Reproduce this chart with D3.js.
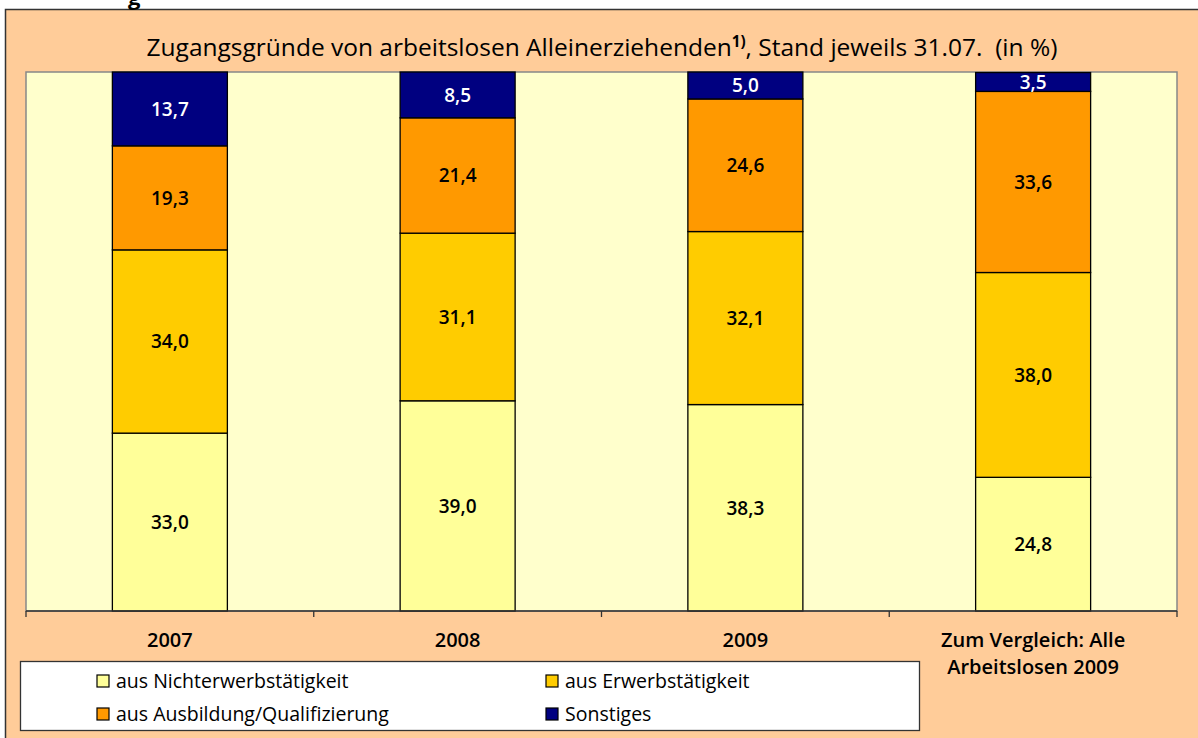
<!DOCTYPE html>
<html><head><meta charset="utf-8">
<script src="https://cdn.jsdelivr.net/npm/d3@7"></script>
<style>body{margin:0;background:#fff;} svg{display:block;} text{font-family:"Open Sans","Liberation Sans",Arial,sans-serif;}</style>
</head><body>
<svg id="c" width="1198" height="738"></svg>
<script>
const categories = ["2007", "2008", "2009", "Zum Vergleich: Alle|Arbeitslosen 2009"];
const seriesNames = ["aus Nichterwerbstätigkeit", "aus Erwerbstätigkeit", "aus Ausbildung/Qualifizierung", "Sonstiges"];
const nichterwerb = [33.0, 39.0, 38.3, 24.8];
const erwerb = [34.0, 31.1, 32.1, 38.0];
const ausbildung = [19.3, 21.4, 24.6, 33.6];
const sonstiges = [13.7, 8.5, 5.0, 3.5];
const colors = ["#FFFF99", "#FFCC00", "#FF9900", "#000080"];
const labelColors = ["#000", "#000", "#000", "#fff"];

function fitWidth(sel, target) {
  const fs = parseFloat(sel.attr("font-size"));
  const w = sel.node().getComputedTextLength();
  if (w > 0) sel.attr("font-size", (fs * target / w).toFixed(2));
}

const svg = d3.select("#c");
svg.append("rect").attr("x", 5.5).attr("y", 9.5).attr("width", 1300).attr("height", 800)
  .attr("fill", "#FFCC99").attr("stroke", "#333").attr("stroke-width", 1.5);
// partially visible heading glyph above the frame (cut off in the original too)
svg.append("text").attr("x", 128).attr("y", 5).attr("font-size", 22).attr("font-weight", "bold").text("g");

const pl = 26, pr = 1177, pt = 72, pb = 611;
const x = d3.scaleBand().domain(categories).range([pl, pr]).paddingInner(0).paddingOuter(0);
const y = d3.scaleLinear().domain([0, 100]).range([pb, pt]);

svg.append("rect").attr("x", pl).attr("y", pt).attr("width", pr - pl).attr("height", pb - pt)
  .attr("fill", "#FFFFCC").attr("stroke", "#888").attr("stroke-width", 1.5);

const series = [nichterwerb, erwerb, ausbildung, sonstiges];
const data = categories.map((c, i) => {
  const o = {cat: c};
  seriesNames.forEach((s, j) => o[s] = series[j][i]);
  return o;
});
const stacked = d3.stack().keys(seriesNames)(data);
const bw = 115;
stacked.forEach((layer, j) => {
  const g = svg.append("g");
  layer.forEach(d => {
    const cx = x(d.data.cat) + x.bandwidth() / 2;
    const top = Math.max(y(d[1]), pt);
    g.append("rect").attr("x", cx - bw / 2).attr("y", top).attr("width", bw)
      .attr("height", y(d[0]) - top).attr("fill", colors[j]).attr("stroke", "#000").attr("stroke-width", 1.3);
    const v = d[1] - d[0];
    g.append("text").attr("x", cx).attr("y", (top + y(d[0])) / 2).attr("dy", "0.36em")
      .attr("text-anchor", "middle").attr("font-size", 19).attr("font-weight", 600)
      .attr("fill", labelColors[j]).text(d3.format(".1f")(v).replace(".", ","));
  });
});

const ax = svg.append("g").attr("transform", `translate(0,${pb})`);
ax.append("line").attr("x1", pl).attr("x2", pr).attr("stroke", "#333").attr("stroke-width", 1.3);
const tickXs = categories.map(c => x(c)).concat([pr]);
tickXs.forEach(t => ax.append("line").attr("x1", t).attr("x2", t).attr("y1", 0).attr("y2", 6).attr("stroke", "#333").attr("stroke-width", 1.3));
categories.forEach(c => {
  c.split("|").forEach((l, k) => {
    ax.append("text").attr("x", x(c) + x.bandwidth() / 2).attr("y", 29 + k * 27).attr("dy", "0.36em")
      .attr("text-anchor", "middle").attr("font-size", 20).attr("font-weight", 600).text(l);
  });
});

const title = svg.append("text").attr("x", 602).attr("y", 56).attr("text-anchor", "middle")
  .attr("font-size", 21).attr("font-weight", 500);
title.append("tspan").text("Zugangsgründe von arbeitslosen Alleinerziehenden");
title.append("tspan").attr("font-size", "0.62em").attr("dy", -9).attr("font-weight", "bold").text("1)");
title.append("tspan").attr("dy", 9).style("white-space", "pre").text(", Stand jeweils 31.07.  (in %)");
fitWidth(title, 911);

svg.append("rect").attr("x", 20.5).attr("y", 661.5).attr("width", 899).attr("height", 69)
  .attr("fill", "#fff").attr("stroke", "#333").attr("stroke-width", 1.3);
const legPos = [[97, 681], [546, 681], [97, 714], [546, 714]];
seriesNames.forEach((s, j) => {
  const [lx, ly] = legPos[j];
  svg.append("rect").attr("x", lx).attr("y", ly - 6).attr("width", 12).attr("height", 12)
    .attr("fill", colors[j]).attr("stroke", "#000").attr("stroke-width", 1.2);
  svg.append("text").attr("x", lx + 19).attr("y", ly).attr("dy", "0.36em")
    .attr("font-size", 19.5).text(s);
});
</script>
</body></html>
